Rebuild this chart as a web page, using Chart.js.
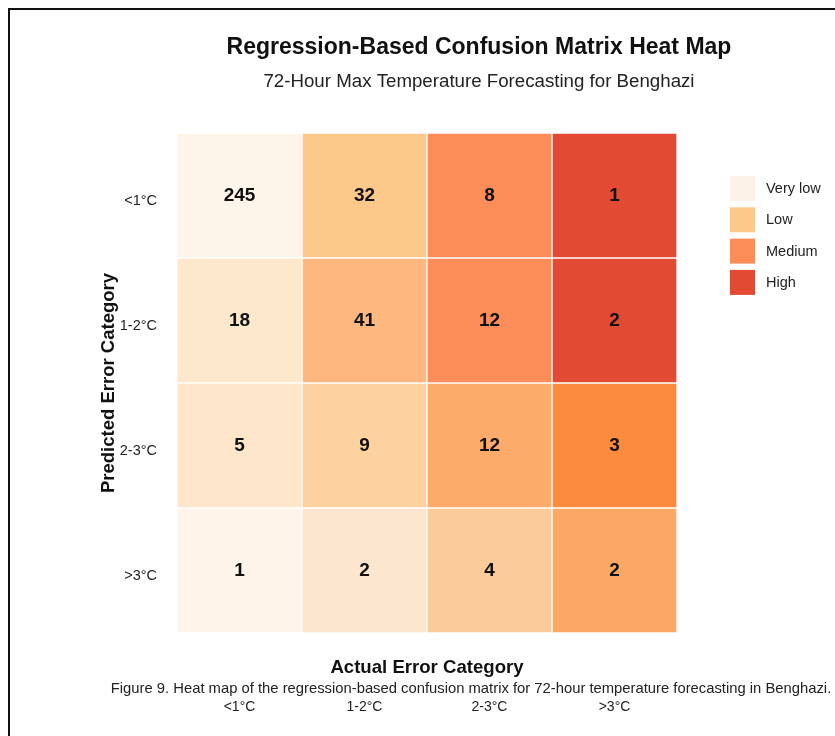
<!DOCTYPE html>
<html>
<head>
<meta charset="utf-8">
<title>Regression-Based Confusion Matrix Heat Map</title>
<script src="https://cdn.jsdelivr.net/npm/chart.js@4.4.1/dist/chart.umd.min.js"></script>
<style>
  body { margin: 0; background: #fff; }
  #wrap { position: relative; width: 835px; height: 736px; overflow: hidden; }
  #frame { position: absolute; left: 8px; top: 8px; width: 900px; height: 800px;
           border-left: 2px solid #111; border-top: 2px solid #111; }
  #myChart { position: absolute; left: 0; top: 0; }
</style>
</head>
<body>
<div id="wrap">
  <div id="frame"></div>
  <canvas id="myChart" width="835" height="736"></canvas>
</div>
<script>
// categorias dos eixos
const actualCats = ['<1°C', '1-2°C', '2-3°C', '>3°C']
const predictedCats = ['<1°C', '1-2°C', '2-3°C', '>3°C']

// contagens, uma linha por categoria prevista
const rowLt1 = [245, 32, 8, 1]
const row1to2 = [18, 41, 12, 2]
const row2to3 = [5, 9, 12, 3]
const rowGt3 = [1, 2, 4, 2]
const rows = [rowLt1, row1to2, row2to3, rowGt3]

// legenda
const legendLabels = ['Very low', 'Low', 'Medium', 'High']
const legendColors = ['#fdf2e6', '#fdc98b', '#fc8d59', '#e34a33']

// cores de cada celula (estilo)
const cellColors = [
  ['#fdf4ea', '#fdc98b', '#fc8d59', '#e34a33'],
  ['#fde8cc', '#fdb77f', '#fc8d59', '#e34a33'],
  ['#fde6c9', '#fdd29e', '#fdab6b', '#fd8b3d'],
  ['#fef4ea', '#fde6cf', '#fccb9a', '#fca865']
]

const FONT = 'Arial, "Liberation Sans", sans-serif'
const ctx = document.getElementById('myChart')

// numeros dentro das celulas
const cellText = {
  id: 'cellText',
  afterDatasetsDraw(chart) {
    const c = chart.ctx
    c.save()
    c.font = 'bold 19px ' + FONT
    c.fillStyle = '#111'
    c.textAlign = 'center'
    c.textBaseline = 'middle'
    chart.data.datasets.forEach((ds, i) => {
      chart.getDatasetMeta(i).data.forEach((bar, j) => {
        c.fillText(ds.counts[j], bar.x, (bar.y + bar.base) / 2)
      })
    })
    c.restore()
  }
}

// titulos, legenda e legenda da figura
const decor = {
  id: 'decor',
  afterDraw(chart) {
    const c = chart.ctx
    const area = chart.chartArea
    c.save()
    c.textAlign = 'center'
    c.textBaseline = 'middle'
    c.fillStyle = '#111'
    c.font = 'bold 23px ' + FONT
    c.fillText('Regression-Based Confusion Matrix Heat Map', 479, 48)
    c.fillStyle = '#222'
    c.font = '18.7px ' + FONT
    c.fillText('72-Hour Max Temperature Forecasting for Benghazi', 479, 82)

    c.fillStyle = '#111'
    c.font = 'bold 18.6px ' + FONT
    c.fillText('Actual Error Category', (area.left + area.right) / 2, 668)
    c.fillStyle = '#222'
    c.font = '14.8px ' + FONT
    c.fillText('Figure 9. Heat map of the regression-based confusion matrix for 72-hour temperature forecasting in Benghazi.', 471, 689)

    // legenda lateral
    c.textAlign = 'left'
    c.font = '14.5px ' + FONT
    legendLabels.forEach((lab, i) => {
      const y = 176 + i * 31.3
      c.fillStyle = legendColors[i]
      c.fillRect(730, y, 25, 25)
      c.fillStyle = '#222'
      c.fillText(lab, 766, y + 13)
    })
    c.restore()
  }
}

const myChart = new Chart(ctx, {
  type: 'bar',
  data: {
    labels: actualCats,
    datasets: rows.map((r, i) => ({
      label: predictedCats[i],
      data: r.map(() => 1),
      counts: r,
      backgroundColor: cellColors[i],
      borderColor: '#ffffff',
      borderWidth: 1,
      borderSkipped: false,
      barPercentage: 1,
      categoryPercentage: 1
    }))
  },
  options: {
    responsive: false,
    animation: false,
    layout: { padding: { left: 0, top: 133, right: 158, bottom: 0 } },
    plugins: {
      legend: { display: false },
      tooltip: { enabled: false }
    },
    scales: {
      x: {
        stacked: true,
        grid: { display: false, drawTicks: false },
        border: { display: false },
        ticks: { padding: 66, color: '#222', font: { size: 14, family: FONT } },
        afterFit(scale) { scale.height = 103 }
      },
      y: {
        stacked: true,
        reverse: true,
        min: 0,
        max: 4,
        grid: { display: false, drawTicks: false },
        border: { display: false },
        afterBuildTicks(scale) {
          scale.ticks = predictedCats.map((_, i) => ({ value: i + 0.5 }))
        },
        ticks: {
          padding: 20,
          labelOffset: 5,
          color: '#222',
          font: { size: 14.5, family: FONT },
          callback: (v) => predictedCats[Math.floor(v)]
        },
        title: {
          display: true,
          text: 'Predicted Error Category',
          color: '#111',
          font: { size: 18.5, weight: 'bold', family: FONT },
          padding: { top: 98, bottom: 0 }
        },
        afterFit(scale) { scale.width = 177 }
      }
    }
  },
  plugins: [cellText, decor]
})
</script>
</body>
</html>
